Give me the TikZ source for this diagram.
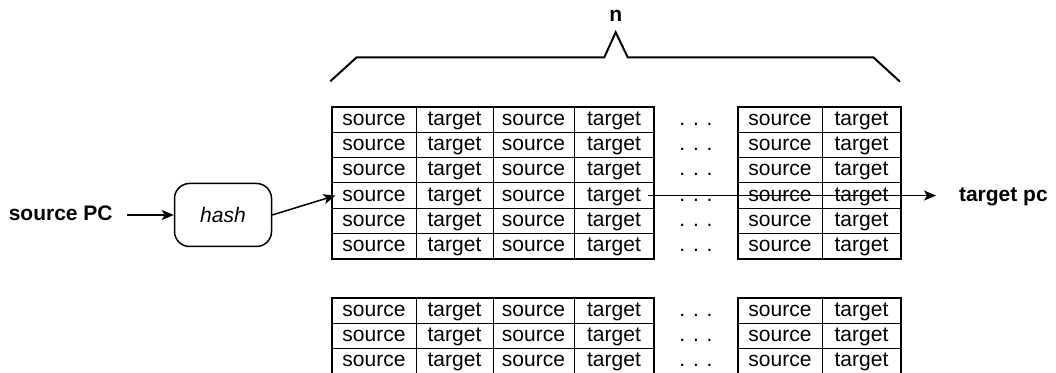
\documentclass[tikz,border=0pt]{standalone}
\usepackage{fontspec}
\setmainfont{Liberation Sans}
\usetikzlibrary{arrows.meta,positioning}
\definecolor{btbInk}{HTML}{000000}
\tikzset{
  btb grid/.style={draw=btbInk, line width=0.5pt},
  btb frame/.style={draw=btbInk, line width=1pt},
  btb entry/.style={font=\fontsize{10.5pt}{12pt}\selectfont, text=btbInk, text height=7.5pt, text depth=1.8pt},
  btb label/.style={font=\fontsize{10.5pt}{12pt}\selectfont\bfseries, text=btbInk, text height=7.5pt, text depth=1.8pt},
  btb hash/.style={draw=btbInk, rounded corners=7.5pt, line width=0.75pt, minimum width=48.5pt, minimum height=31.5pt, font=\fontsize{10.5pt}{12pt}\selectfont\itshape},
  btb arrow/.style={draw=btbInk, line width=0.75pt, -{Stealth[length=6pt,width=5pt,inset=1.5pt]}},
  btb brace/.style={draw=btbInk, line width=1pt},
}

\begin{document}
\begin{tikzpicture}[x=0.5pt,y=-0.5pt]
  \useasboundingbox (0,0) rectangle (1056,373);
  % upper table: six rows
  \foreach \r in {1,...,6} {
    \foreach \xa/\xb/\txt [count=\c] in {332/416/source, 416/493/target, 493/574/source, 574/654/target, 738/822/source, 822/901/target} {
      \draw[btb grid] (\xa,{107+(\r-1)*25.3}) rectangle (\xb,{107+\r*25.3});
      \node[btb entry] (t-\r-\c) at ({(\xa+\xb)/2},{107+(\r-0.5)*25.3}) {\txt};
    }
    \node[btb entry] (tdots-\r) at (696,{107+(\r-0.5)*25.3}) {. . .};
  }
  \draw[btb frame] (332,107) rectangle (654,258.8);
  \draw[btb frame] (738,107) rectangle (901,258.8);
  % lower table, cut off at the bottom
  \foreach \r in {1,...,3} {
    \foreach \xa/\xb/\txt [count=\c] in {332/416/source, 416/493/target, 493/574/source, 574/654/target, 738/822/source, 822/901/target} {
      \draw[btb grid] (\xa,{298+(\r-1)*25.3}) rectangle (\xb,{298+\r*25.3});
      \node[btb entry] (b-\r-\c) at ({(\xa+\xb)/2},{298+(\r-0.5)*25.3}) {\txt};
    }
    \node[btb entry] (bdots-\r) at (696,{298+(\r-0.5)*25.3}) {. . .};
  }
  \draw[btb frame] (332,298) rectangle (654,373.9);
  \draw[btb frame] (738,298) rectangle (901,373.9);
  % brace over the ways
  \coordinate (peak) at (615.7,32.3);
  \draw[btb brace] (330.3,81.3) -- (356.7,57.3) -- (604.3,57.3) -- (peak)
    -- (627.7,57.3) -- (873.3,57.3) -- (900,81.7);
  \node[btb label, above=0pt of peak] (n) {n};
  % lookup
  \node[btb hash] (hash) at (223,215) {hash};
  \node[btb label, left=27pt of hash] (spc) {source PC};
  \node[btb label, anchor=west] (tpc) at (952,{107+3.5*25.3}) {target pc};
  \draw[btb arrow, shorten <=3.7pt] (spc.east) -- (hash.west);
  \draw[btb arrow] (hash.east) -- (t-4-1.west);
  \draw[btb arrow, shorten >=8pt] (t-4-4.east) -- (tpc.west);
\end{tikzpicture}
\end{document}
